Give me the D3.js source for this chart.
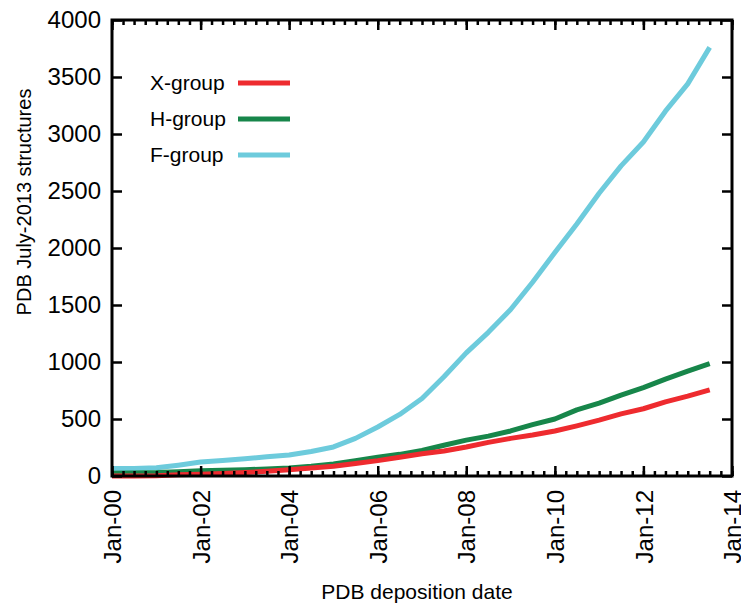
<!DOCTYPE html>
<html>
<head>
<meta charset="utf-8">
<script src="https://cdn.jsdelivr.net/npm/d3@7"></script>
<style>
  body { margin: 0; background: #fff; }
  text { font-family: "Liberation Sans", Arial, sans-serif; fill: #000; }
</style>
</head>
<body>
<div id="plot"></div>
<script>
var margin = {top: 20, right: 9, bottom: 129, left: 112};

var width = 741 - margin.left - margin.right,
    height = 605 - margin.top - margin.bottom;

// sample dates (year-month)
var dates = ['2000-01', '2000-07', '2001-01', '2001-07', '2002-01', '2002-07',
    '2003-01', '2003-07', '2004-01', '2004-07', '2005-01', '2005-07',
    '2006-01', '2006-07', '2007-01', '2007-07', '2008-01', '2008-07',
    '2009-01', '2009-07', '2010-01', '2010-07', '2011-01', '2011-07',
    '2012-01', '2012-07', '2013-01', '2013-07'];

var xGroup = [0, 0, 2, 10, 15, 22, 30, 42, 55, 70, 85, 110, 135, 165, 195, 220,
    255, 295, 330, 360, 395, 440, 490, 545, 590, 650, 700, 755];
var hGroup = [25, 27, 30, 38, 45, 50, 55, 62, 70, 85, 105, 135, 165, 190, 225, 270,
    315, 350, 395, 450, 500, 580, 640, 710, 775, 850, 920, 985];
var fGroup = [65, 66, 72, 95, 122, 135, 152, 168, 185, 215, 255, 330, 430, 540, 680, 870,
    1080, 1260, 1460, 1700, 1960, 2210, 2480, 2720, 2930, 3200, 3440, 3760];

var seriesNames = ['X-group', 'H-group', 'F-group'];
var seriesColors = ['#ee2b2f', '#17864a', '#6dcbdc'];
var yTicks = [0, 500, 1000, 1500, 2000, 2500, 3000, 3500, 4000];

var parseDate = d3.timeParse('%Y-%m');
var fmt = d3.timeFormat('%b-%y');

// scales and axes
var xScale = d3.scaleTime()
    .domain([new Date(2000, 0, 1), new Date(2014, 0, 1)])
    .range([0, width]);

var yScale = d3.scaleLinear()
    .domain([0, 4000])
    .range([height, 0]);

var majorX = d3.timeYear.every(2).range(new Date(2000, 0, 1), new Date(2014, 0, 2));
var minorX = d3.timeMonth.every(3).range(new Date(2000, 0, 1), new Date(2014, 0, 2));

var svg = d3.select('#plot').append('svg')
    .attr('width', 741)
    .attr('height', 605);

var g = svg.append('g')
    .attr('transform', 'translate(' + margin.left + ',' + margin.top + ')');

var series = [xGroup, hGroup, fGroup].map(function(vals, i) {
    return {
        name: seriesNames[i],
        color: seriesColors[i],
        values: vals.map(function(v, j) { return {date: parseDate(dates[j]), value: v}; })
    };
});

var line = d3.line()
    .x(function(d) { return xScale(d.date); })
    .y(function(d) { return yScale(d.value); });

// draw F first so X and H sit above it
g.selectAll('.series')
    .data(series.slice().reverse())
  .enter().append('path')
    .attr('class', 'series')
    .attr('d', function(d) { return line(d.values); })
    .attr('fill', 'none')
    .attr('stroke', function(d) { return d.color; })
    .attr('stroke-width', 5)
    .attr('stroke-linejoin', 'round');

// frame ticks
function tickStyle(sel) {
    sel.select('.domain').remove();
    sel.selectAll('.tick line').attr('stroke', '#000').attr('stroke-width', 2.5);
}

g.append('g')
    .attr('transform', 'translate(0,' + height + ')')
    .call(d3.axisTop(xScale).tickValues(minorX).tickSize(5).tickFormat(''))
    .call(tickStyle);
g.append('g')
    .attr('transform', 'translate(0,' + height + ')')
    .call(d3.axisTop(xScale).tickValues(majorX).tickSize(10).tickFormat(''))
    .call(tickStyle);
g.append('g')
    .call(d3.axisBottom(xScale).tickValues(minorX).tickSize(5).tickFormat(''))
    .call(tickStyle);
g.append('g')
    .call(d3.axisBottom(xScale).tickValues(majorX).tickSize(10).tickFormat(''))
    .call(tickStyle);
g.append('g')
    .call(d3.axisRight(yScale).tickValues(yTicks).tickSize(10).tickFormat(''))
    .call(tickStyle);
g.append('g')
    .attr('transform', 'translate(' + width + ',0)')
    .call(d3.axisLeft(yScale).tickValues(yTicks).tickSize(10).tickFormat(''))
    .call(tickStyle);

// tick labels
var yLab = d3.axisLeft(yScale).tickValues(yTicks).tickSize(0).tickPadding(11)
    .tickFormat(d3.format('d'));
g.append('g').call(yLab)
    .call(function(s) { s.select('.domain').remove(); })
    .selectAll('text')
    .style('font-size', '24px')
    .style('font-family', '"Liberation Sans", Arial, sans-serif');

var xLab = d3.axisBottom(xScale).tickValues(majorX).tickSize(0).tickFormat(fmt);
g.append('g')
    .attr('transform', 'translate(0,' + height + ')')
    .call(xLab)
    .call(function(s) { s.select('.domain').remove(); })
    .selectAll('text')
    .style('font-size', '24px')
    .style('font-family', '"Liberation Sans", Arial, sans-serif')
    .attr('text-anchor', 'end')
    .attr('transform', 'rotate(-90)')
    .attr('x', -14)
    .attr('y', 0)
    .attr('dy', '0.36em');

// frame
g.append('rect')
    .attr('width', width)
    .attr('height', height)
    .attr('fill', 'none')
    .attr('stroke', '#000')
    .attr('stroke-width', 3);

// axis titles
svg.append('text')
    .attr('x', 417)
    .attr('y', 599)
    .attr('text-anchor', 'middle')
    .style('font-size', '21px')
    .text('PDB deposition date');

svg.append('text')
    .attr('transform', 'translate(31,202) rotate(-90)')
    .attr('text-anchor', 'middle')
    .style('font-size', '20px')
    .text('PDB July-2013 structures');

// legend
var legend = g.selectAll('.legend')
    .data(series)
  .enter().append('g')
    .attr('class', 'legend')
    .attr('transform', function(d, i) { return 'translate(0,' + (63 + i * 36) + ')'; });

legend.append('text')
    .attr('x', 38)
    .attr('dy', '0.35em')
    .style('font-size', '21px')
    .text(function(d) { return d.name; });

legend.append('line')
    .attr('x1', 126)
    .attr('x2', 178)
    .attr('stroke', function(d) { return d.color; })
    .attr('stroke-width', 5);
</script>
</body>
</html>
